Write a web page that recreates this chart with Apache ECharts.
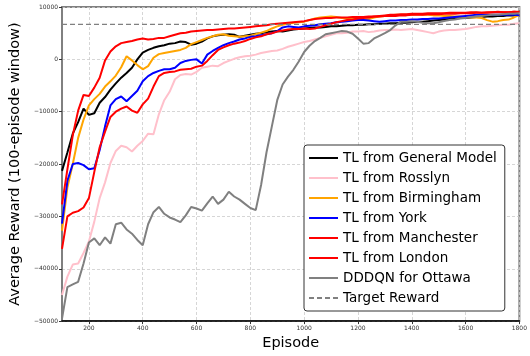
<!DOCTYPE html>
<html><head><meta charset="utf-8">
<script src="https://cdn.jsdelivr.net/npm/echarts/dist/echarts.min.js"></script>
<style>html,body{margin:0;padding:0;background:#fff}#c{width:530px;height:356px}</style>
</head><body><div id="c"></div>
<script>
// Episodes 100..1800 step 20
const episodes = [];
for (let e = 100; e <= 1800; e += 20) episodes.push(e);
const xTicks = [200, 400, 600, 800, 1000, 1200, 1400, 1600, 1800];
const yTicks = [-50000, -40000, -30000, -20000, -10000, 0, 10000];
const targetReward = 6700;

const generalModel = [
-21300,-17800,-14200,-12000,-9400,-10600,-10300,-8300,-7200,-5800,
-4600,-3500,-2600,-1600,0,1300,1800,2200,2500,2700,
3000,3100,3400,3300,2800,3000,3400,4000,4400,4600,
4700,4800,4700,4300,4500,4700,4900,5000,5200,5300,
5400,5300,5500,5700,5800,5900,6000,6100,6100,6200,
6300,6300,6400,6500,6500,6600,6600,6700,6700,6800,
6800,6900,6900,7000,7000,7100,7200,7200,7300,7400,
7500,7600,7700,7800,7900,7900,8000,8100,8100,8200,
8200,8300,8300,8400,8400,8500];
const rosslyn = [
-45000,-41500,-39200,-39000,-37000,-34800,-31000,-26500,-23500,-19800,
-17500,-16500,-16800,-17600,-16500,-15600,-14200,-14300,-10500,-7800,
-6200,-3800,-3000,-2800,-2900,-2400,-1600,-1400,-1200,-1300,
-700,-300,100,400,600,700,900,1200,1400,1600,
1700,2000,2400,2700,3000,3300,3500,3800,4100,4400,
4700,5000,5000,5100,5300,5300,5400,5200,5300,5500,
5600,5600,5700,5600,5700,5800,5600,5400,5200,5000,
5300,5500,5600,5600,5700,5800,6000,6200,6300,6300,
6400,6500,6600,6600,6800,6900];
const birmingham = [
-32700,-24500,-20000,-15000,-11500,-8800,-7600,-6600,-5200,-4200,
-3100,-1500,600,-200,-1100,-1900,-1300,300,1000,1200,
1400,1600,1800,2200,2900,3300,3700,4100,4400,4700,
4800,4500,4400,4300,4400,4500,4800,5100,5400,5900,
6300,6600,6800,7000,7100,7200,7500,7800,8000,8100,
8200,8100,7900,7800,7700,7600,7500,7700,8000,8200,
8300,8400,8500,8500,8500,8500,8600,8500,8500,8400,
8400,8300,8300,8200,8200,8100,8000,8000,7900,7500,
7200,7300,7500,7600,8000,8500];
const york = [
-31400,-23200,-20000,-19800,-20200,-21000,-20800,-17300,-12800,-8800,
-7600,-7100,-8000,-7000,-6000,-4200,-3200,-2600,-2200,-1900,
-1900,-1600,-700,-300,-100,0,-800,900,1600,2200,
2700,3100,3400,3800,4000,4300,4400,4600,4800,5000,
5400,6100,6300,6200,6100,6300,6400,6500,6700,6800,
6900,7100,7200,7300,7400,7500,7500,7400,7300,7200,
7300,7400,7400,7500,7500,7600,7600,7700,7700,7800,
7800,7900,8000,8100,8200,8300,8400,8500,8500,8500,
8500,8500,8500,8500,8500,8400];
const manchester = [
-36200,-30000,-29300,-29000,-28300,-26500,-21500,-16800,-13800,-11000,
-10000,-9400,-9000,-9800,-10200,-8600,-7500,-5200,-3200,-2600,
-2400,-2300,-2000,-1900,-1800,-1400,-1200,-300,800,1800,
2300,2700,3000,3200,3500,3900,4200,4400,4800,5000,
5300,5500,5700,5800,5800,5900,5800,5900,6200,6500,
6800,7100,7300,7500,7600,7800,7900,8000,8200,8300,
8400,8500,8500,8600,8600,8700,8700,8700,8800,8800,
8800,8800,8900,8900,8900,8900,9000,9000,8900,9000,
9000,9100,9000,9000,9100,9000];
const london = [
-27700,-21000,-14500,-9800,-6800,-7000,-5400,-3500,-200,1500,
2500,3100,3300,3500,3800,4000,3800,3900,4100,4100,
4400,4700,5000,5100,5300,5400,5500,5600,5600,5700,
5800,5900,5900,6000,6100,6200,6300,6400,6500,6700,
6800,6900,7000,7100,7200,7300,7500,7700,7800,7900,
7900,8000,8000,8000,8100,8100,8100,8200,8200,8200,
8300,8300,8300,8400,8400,8500,8500,8500,8600,8600,
8600,8700,8700,8700,8800,8800,8800,8900,8900,8900,
9000,9000,9000,9000,9100,9100];
const ottawa = [
-49500,-43500,-43000,-42500,-39000,-35000,-34200,-35500,-34000,-35200,
-31500,-31200,-32500,-33300,-34500,-35500,-31500,-29200,-28200,-29500,
-30200,-30600,-31100,-29800,-28200,-28500,-28900,-27500,-26200,-27600,
-26800,-25300,-26200,-26800,-27600,-28400,-28800,-24000,-17800,-12800,
-7800,-4800,-3300,-2000,-400,1400,2600,3500,4100,4800,
5000,5200,5400,5300,4900,4000,3000,3100,4000,4500,
5000,5600,6500,7200,7200,7300,7200,7000,6900,6900,
7100,7300,7500,7600,7800,7900,8100,8200,8300,8400,
8500,8500,8600,8700,8700,8800];

const seriesDefs = [
  {name: 'TL from General Model', data: generalModel, color: '#000000'},
  {name: 'TL from Rosslyn', data: rosslyn, color: '#ffc0cb'},
  {name: 'TL from Birmingham', data: birmingham, color: '#ffa500'},
  {name: 'TL from York', data: york, color: '#0000ff'},
  {name: 'TL from Manchester', data: manchester, color: '#ff0000'},
  {name: 'TL from London', data: london, color: '#ff0000'},
  {name: 'DDDQN for Ottawa', data: ottawa, color: '#808080'}
];

const FONT = 'DejaVu Sans';
const series = seriesDefs.map(d => ({
  name: d.name, type: 'line', showSymbol: false, symbol: 'none',
  data: episodes.map((e, i) => [e, d.data[i]]),
  lineStyle: {color: d.color, width: 2}, itemStyle: {color: d.color},
  silent: true
}));
series.push({
  name: 'Target Reward', type: 'line', symbol: 'none', showSymbol: false,
  data: [[episodes[0], targetReward], [episodes[episodes.length - 1], targetReward]],
  lineStyle: {color: '#808080', width: 1.2, type: [5, 3]}, itemStyle: {color: '#808080'},
  silent: true
});

const chart = echarts.init(document.getElementById('c'), null, {renderer: 'canvas'});
chart.setOption({
  animation: false,
  backgroundColor: '#ffffff',
  textStyle: {fontFamily: FONT},
  grid: {left: 55, right: 5, top: 7, bottom: 33, show: true, borderColor: '#808080', borderWidth: 2, backgroundColor: 'transparent'},
  legend: {
    orient: 'vertical', left: 304, top: 145,
    itemWidth: 29, itemHeight: 14, itemGap: 6,
    padding: [6, 8, 6, 4],
    backgroundColor: '#ffffff', borderColor: '#333333', borderWidth: 1, borderRadius: 3,
    itemStyle: {opacity: 0, borderWidth: 0},
    textStyle: {fontFamily: FONT, fontSize: 13.5, color: '#000'},
    data: series.map(s => s.name)
  },
  xAxis: {
    type: 'value', min: 100, max: 1800,
    name: 'Episode', nameLocation: 'middle', nameGap: 12,
    nameTextStyle: {fontFamily: FONT, fontSize: 14.5, color: '#000'},
    axisLine: {show: true, onZero: false, lineStyle: {color: '#000', width: 1.5}},
    axisTick: {show: true, length: 3, customValues: xTicks, lineStyle: {color: '#333'}},
    axisLabel: {customValues: xTicks, fontSize: 6, color: '#333', margin: 4, fontFamily: FONT,
      formatter: v => String(v)},
    splitLine: {show: true, lineStyle: {color: '#cccccc', width: 0.8, type: [3, 2]}}
  },
  yAxis: {
    type: 'value', min: -50000, max: 10000, interval: 10000,
    name: 'Average Reward (100-episode window)', nameLocation: 'middle', nameGap: 34,
    nameTextStyle: {fontFamily: FONT, fontSize: 14.5, color: '#000'},
    axisLine: {show: true, lineStyle: {color: '#808080', width: 2}},
    axisTick: {show: true, length: 3, lineStyle: {color: '#333'}},
    axisLabel: {fontSize: 6, color: '#333', margin: 4, fontFamily: FONT,
      formatter: v => String(v).replace('-', '\u2212')},
    splitLine: {show: true, lineStyle: {color: '#cccccc', width: 0.8, type: [3, 2]}}
  },
  series: series
});
</script></body></html>
